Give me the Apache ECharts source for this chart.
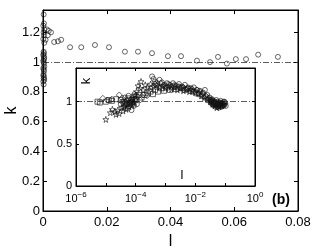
<!DOCTYPE html>
<html><head><meta charset="utf-8">
<script src="https://cdn.jsdelivr.net/npm/echarts@6/dist/echarts.min.js"></script>
<style>html,body{margin:0;padding:0;background:#fff}#c{width:314px;height:249px}</style>
</head><body><div id="c"></div>
<script>
// Main plot: l (x) and k (y), open circles
const mainL = [0.0002,0.0003,0.0001,0.0004,0.0002,0.0003,0.0001,0.0004,0.0002,0.0003,0.0001,0.0002,0.0004,0.0003,0.0001,0.0002,0.0003,0.0004,0.0001,0.0002,0.0003,0.0002,0.0001,0.0003,0.0002,0.0004,0.0001,0.0002,
  0.0012,0.0018,0.0025,0.0015,0.0008,
  0.0035,0.0047,0.0057,0.0085,0.012,0.0163,0.0207,0.0257,0.0298,0.0342,0.0392,0.0433,0.0483,0.0524,0.0549,0.0577,0.0605,0.0637,0.0675,0.0737];
const mainK = [1.32,1.26,1.245,1.22,1.20,1.18,1.155,1.13,1.07,1.06,1.05,1.04,1.03,1.02,1.01,1.00,0.99,0.97,0.96,0.95,0.94,0.92,0.91,0.90,0.89,0.88,0.87,0.85,
  1.22,1.21,1.20,1.18,1.15,
  1.135,1.14,1.15,1.10,1.10,1.115,1.10,1.07,1.07,1.06,1.04,1.04,1.01,1.00,1.035,0.99,1.02,1.02,1.05,1.035];

// Inset: log10(l) exponents and k
const sqE = [-5.28,-5.2,-5.0,-4.9,-4.8,-4.65,-4.5,-4.38,-4.3,-4.25,-4.18,-4.12,-4.05,-3.98,-3.9,-3.8,-3.7,-3.6,-3.5,-3.42,-3.35,-3.25,-3.15,-3.05,-2.95,-2.85,-2.75,-2.65,-2.55,-2.45,-2.35,-2.25,-2.15,-2.05,-1.95,-1.85,-1.75,-1.65,-1.55,-1.48,-1.42,-1.36,-1.3,-1.25,-1.2,-1.15];
const sqK = [1.00,0.99,1.00,1.02,1.01,1.03,1.02,1.00,0.97,1.04,0.98,1.02,1.06,1.03,1.08,1.05,1.08,1.10,1.12,1.09,1.14,1.12,1.16,1.13,1.17,1.14,1.18,1.15,1.17,1.16,1.14,1.15,1.13,1.12,1.10,1.09,1.07,1.05,1.02,1.00,0.98,0.97,0.99,0.96,0.97,0.95];
const diE = [-5.1,-4.95,-4.8,-4.55,-4.45,-4.35,-4.28,-4.2,-4.15,-4.08,-4.02,-3.95,-3.85,-3.75,-3.62,-3.55,-3.45,-3.35,-3.25,-3.15,-3.0,-2.9,-2.8,-2.7,-2.55,-2.4,-2.25,-2.1,-1.95,-1.85,-1.75,-1.65,-1.55,-1.45,-1.38,-1.3,-1.22,-1.15,-1.08,-1.02];
const diK = [1.04,1.02,1.03,1.08,1.04,0.99,1.02,0.95,1.00,0.97,1.03,1.06,1.02,1.08,1.07,1.13,1.17,1.21,1.18,1.22,1.19,1.21,1.18,1.20,1.18,1.17,1.16,1.15,1.14,1.12,1.10,1.07,1.04,1.01,0.98,0.96,0.95,0.97,0.96,0.98];
const stE = [-5.0,-4.85,-4.78,-4.7,-4.66,-4.6,-4.55,-4.48,-4.42,-4.38,-4.32,-4.28,-4.22,-4.18,-4.12,-4.08,-4.05,-4.0,-3.97,-3.92,-3.85,-3.82,-3.75,-3.68,-3.6,-3.5,-3.4,-3.3,-3.2,-3.1,-3.0,-2.9,-2.8,-2.7,-2.6,-2.5,-2.4,-2.3,-2.2,-2.1,-2.0,-1.9,-1.8,-1.7,-1.6,-1.5,-1.42,-1.35,-1.28,-1.2,-1.12,-1.05];
const stK = [0.79,0.87,0.91,0.88,0.85,0.90,0.86,0.93,0.89,0.95,0.91,0.98,0.94,1.00,0.96,1.04,0.99,1.08,1.12,1.19,1.16,1.24,1.14,1.20,1.17,1.21,1.18,1.20,1.17,1.19,1.16,1.18,1.15,1.17,1.14,1.16,1.13,1.15,1.12,1.13,1.11,1.10,1.07,1.05,1.03,1.00,0.97,0.95,0.93,0.94,0.96,0.97];
const ciE = [-3.45,-3.4,-3.35,-3.28,-3.2,-3.12,-3.05,-2.95,-2.85,-2.75,-2.65,-2.55,-2.45,-2.35,-2.25,-2.15,-2.05,-1.95,-1.85,-1.75,-1.68,-1.6,-1.52,-1.45,-1.38,-1.3,-1.22,-1.15,-1.08,-1.02];
const ciK = [1.30,1.27,1.24,1.22,1.26,1.23,1.20,1.22,1.20,1.22,1.19,1.21,1.18,1.20,1.17,1.16,1.17,1.14,1.13,1.11,1.14,1.08,1.05,1.02,1.00,0.98,0.97,0.99,0.98,1.00];
const dnE = [-1.5,-1.46,-1.44,-1.4,-1.38,-1.34,-1.32,-1.3,-1.27,-1.25,-1.22,-1.2,-1.18,-1.15,-1.12,-1.1,-1.08,-1.05,-1.03,-1.0,-0.98,
  -4.5,-4.45,-4.4,-4.36,-4.33,-4.3,-4.26,-4.24,-4.2,-4.16,-4.14,-4.1,-4.06,-4.04,-4.0,-3.96];
const dnK = [1.02,0.99,1.03,0.96,1.01,0.99,0.94,1.02,0.97,1.00,0.93,0.99,0.96,1.01,0.94,0.98,0.95,1.00,0.96,0.98,0.95,
  0.97,1.00,0.93,1.05,0.96,1.01,0.92,1.07,0.98,1.03,0.90,1.00,0.95,1.09,1.01,0.97];

const mainXTicks = {min:0, max:0.08, interval:0.02};
const mainYTicks = {min:0, max:1.35, interval:0.2};
const insetYTicks = {min:0, max:1.4, interval:0.5};
const refK = 1;

const FONT = 'Liberation Sans';
const openStyle = {color:'rgba(0,0,0,0)', borderColor:'#111', borderWidth:0.8};
const dashDot = {type:[6,2,1,2], color:'#333', width:0.8};
const pairs = (xs, ys) => xs.map((x,i)=>[x, ys[i]]);
const lpairs = (es, ys) => es.map((e,i)=>[Math.pow(10,e), ys[i]]);
const starPath = 'path://M50,0 L61,35 L98,35 L68,57 L79,91 L50,70 L21,91 L32,57 L2,35 L39,35 Z';
const supFmt = v => { const e = Math.round(Math.log10(v)); if (e % 2 !== 0) return ''; return '{b|10}{s|' + (e<0?'\u2212':'') + Math.abs(e) + '}'; };

const axLine = {show:true, onZero:false, lineStyle:{color:'#000', width:1}};
const chart = echarts.init(document.getElementById('c'));
chart.setOption({
  animation:false,
  grid:[
    {left:43, top:10, right:16, bottom:38, containLabel:false, outerBoundsMode:'none', show:true, borderColor:'#000', borderWidth:1, backgroundColor:'#fff'},
    {left:76, top:68, right:59, bottom:63, containLabel:false, outerBoundsMode:'none', show:true, borderColor:'#000', borderWidth:1, backgroundColor:'#fff', z:5}
  ],
  xAxis:[
    Object.assign({gridIndex:0, type:'value', position:'bottom', axisLine:axLine,
      axisTick:{inside:true, length:4, lineStyle:{color:'#000'}},
      axisLabel:{color:'#000', fontFamily:FONT, fontSize:13, margin:5, showMaxLabel:true},
      splitLine:{show:false}, name:'l', nameLocation:'middle', nameGap:21,
      nameTextStyle:{fontFamily:FONT, fontSize:16, color:'#000'}}, mainXTicks),
    Object.assign({gridIndex:0, type:'value', position:'top', axisLine:axLine,
      axisTick:{inside:true, length:4, lineStyle:{color:'#000'}}, axisLabel:{show:false}, splitLine:{show:false}}, mainXTicks),
    {gridIndex:1, type:'log', logBase:10, min:1e-6, max:1, interval:1, position:'bottom', z:7, axisLine:axLine,
      axisTick:{inside:true, length:3, lineStyle:{color:'#000'}},
      axisLabel:{formatter:supFmt, margin:5, color:'#000',
        rich:{b:{fontFamily:FONT, fontSize:11, color:'#000'}, s:{fontFamily:FONT, fontSize:8, color:'#000', padding:[0,0,8,0]}}},
      splitLine:{show:false}, minorTick:{show:false}},
    {gridIndex:1, type:'log', logBase:10, min:1e-6, max:1, interval:1, position:'top', z:7, axisLine:axLine,
      axisTick:{inside:true, length:3, lineStyle:{color:'#000'}}, axisLabel:{show:false}, splitLine:{show:false}}
  ],
  yAxis:[
    Object.assign({gridIndex:0, type:'value', position:'left', axisLine:axLine,
      axisTick:{inside:true, length:4, lineStyle:{color:'#000'}},
      axisLabel:{color:'#000', fontFamily:FONT, fontSize:13, margin:3, showMaxLabel:false},
      splitLine:{show:false}, name:'k', nameLocation:'middle', nameGap:23, nameMoveOverlap:false,
      nameTextStyle:{fontFamily:FONT, fontSize:16, color:'#000'}}, mainYTicks),
    Object.assign({gridIndex:0, type:'value', position:'right', axisLine:axLine,
      axisTick:{inside:true, length:4, lineStyle:{color:'#000'}}, axisLabel:{show:false}, splitLine:{show:false}}, mainYTicks),
    Object.assign({gridIndex:1, type:'value', position:'left', z:7, axisLine:axLine,
      axisTick:{inside:true, length:3, lineStyle:{color:'#000'}},
      axisLabel:{color:'#000', fontFamily:FONT, fontSize:11, margin:4, showMaxLabel:false},
      splitLine:{show:false}}, insetYTicks),
    Object.assign({gridIndex:1, type:'value', position:'right', z:7, axisLine:axLine,
      axisTick:{inside:true, length:3, lineStyle:{color:'#000'}}, axisLabel:{show:false}, splitLine:{show:false}}, insetYTicks)
  ],
  series:[
    {type:'scatter', xAxisIndex:0, yAxisIndex:0, symbol:'circle', symbolSize:5, itemStyle:openStyle,
      data:pairs(mainL, mainK),
      markLine:{silent:true, symbol:'none', label:{show:false}, lineStyle:dashDot, data:[{yAxis:refK}]}},
    {type:'scatter', xAxisIndex:2, yAxisIndex:2, z:6, symbol:'rect', symbolSize:5, itemStyle:openStyle,
      data:lpairs(sqE, sqK),
      markLine:{silent:true, symbol:'none', label:{show:false}, lineStyle:dashDot, data:[{yAxis:refK}]}},
    {type:'scatter', xAxisIndex:2, yAxisIndex:2, z:6, symbol:'diamond', symbolSize:6, itemStyle:openStyle, data:lpairs(diE, diK)},
    {type:'scatter', xAxisIndex:2, yAxisIndex:2, z:6, symbol:starPath, symbolSize:6, itemStyle:openStyle, data:lpairs(stE, stK)},
    {type:'scatter', xAxisIndex:2, yAxisIndex:2, z:6, symbol:'circle', symbolSize:5, itemStyle:openStyle, data:lpairs(ciE, ciK)},
    {type:'scatter', xAxisIndex:2, yAxisIndex:2, z:6, symbol:'circle', symbolSize:5, itemStyle:openStyle, data:lpairs(dnE, dnK)}
  ],
  graphic:[
    {type:'text', x:86, y:81, rotation:Math.PI/2, z:10, style:{text:'k', font:'13px "Liberation Sans"', fill:'#000', align:'center', verticalAlign:'middle'}},
    {type:'text', x:182, y:175, z:10, style:{text:'l', font:'13px "Liberation Sans"', fill:'#000', align:'center', verticalAlign:'middle'}},
    {type:'text', x:281, y:200, z:10, style:{text:'(b)', font:'bold 14px "Liberation Sans"', fill:'#000', align:'center', verticalAlign:'middle'}}
  ]
});
</script></body></html>
